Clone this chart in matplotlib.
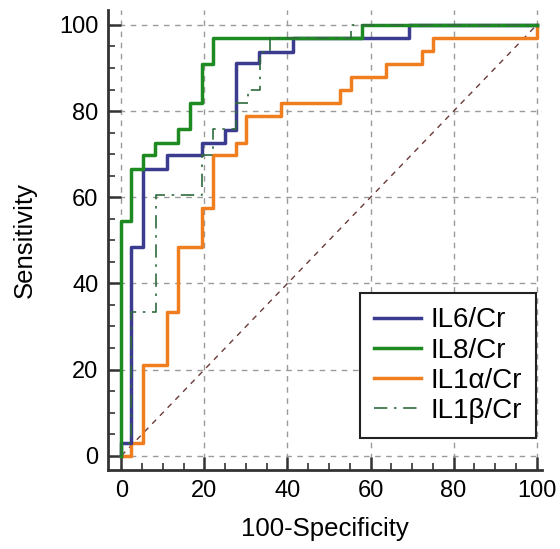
import matplotlib
matplotlib.use("Agg")
import matplotlib.pyplot as plt
from matplotlib.ticker import MultipleLocator

# step points of each ROC curve (100-specificity, sensitivity)
il6_x = [0, 0, 2.4, 2.4, 5.2, 5.2, 11.1, 11.1, 19.3, 19.3, 24.9, 24.9, 27.5, 27.5,
         33.2, 33.2, 41.3, 41.3, 69.3, 69.3, 100]
il6_y = [0, 3.0, 3.0, 48.4, 48.4, 66.5, 66.5, 69.7, 69.7, 72.5, 72.5, 75.6, 75.6, 91.1,
         91.1, 93.8, 93.8, 96.9, 96.9, 100, 100]

il8_x = [0, 0, 2.4, 2.4, 5.2, 5.2, 8.0, 8.0, 13.6, 13.6, 16.5, 16.5, 19.3, 19.3,
         22.1, 22.1, 58.0, 58.0, 100]
il8_y = [0, 54.6, 54.6, 66.5, 66.5, 69.7, 69.7, 72.5, 72.5, 75.8, 75.8, 81.8, 81.8, 90.9,
         90.9, 96.9, 96.9, 100, 100]

il1a_x = [0, 2.4, 2.4, 5.2, 5.2, 11.1, 11.1, 13.6, 13.6, 19.3, 19.3, 22.1, 22.1, 27.5,
          27.5, 30.1, 30.1, 38.5, 38.5, 52.6, 52.6, 55.4, 55.4, 63.7, 63.7, 72.3, 72.3,
          75.1, 75.1, 100, 100]
il1a_y = [0, 0, 3.0, 3.0, 21.0, 21.0, 33.3, 33.3, 48.4, 48.4, 57.6, 57.6, 69.7, 69.7,
          72.5, 72.5, 78.8, 78.8, 81.8, 81.8, 84.8, 84.8, 87.9, 87.9, 90.9, 90.9, 93.9,
          93.9, 97.0, 97.0, 100]

il1b_x = [0, 0, 2.4, 2.4, 8.3, 8.3, 19.3, 19.3, 22.1, 22.1, 27.5, 27.5, 30.5, 30.5,
          33.3, 33.3, 35.9, 35.9, 55.2, 55.2, 100]
il1b_y = [0, 3.0, 3.0, 33.3, 33.3, 60.6, 60.6, 69.7, 69.7, 75.8, 75.8, 81.8, 81.8, 84.8,
          84.8, 93.8, 93.8, 97.0, 97.0, 100, 100]

plt.rcParams['font.family'] = ['Liberation Sans', 'DejaVu Sans']

fig = plt.figure(figsize=(5.6, 5.49), dpi=100)
ax = fig.add_axes([0.193, 0.144, 0.775, 0.838])

ax.plot([0, 100], [0, 100], color='#6b3a3a', lw=1.0, ls=(0, (4, 4)))
ax.plot(il1a_x, il1a_y, color='#f07d1e', lw=2.5, label='IL1\u03b1/Cr', zorder=3)
ax.plot(il6_x, il6_y, color='#3b3b8f', lw=2.5, label='IL6/Cr', zorder=4)
ax.plot(il8_x, il8_y, color='#1e8a22', lw=2.5, label='IL8/Cr', zorder=5)
ax.plot(il1b_x, il1b_y, color='#2f6b3c', lw=1.2, ls=(0, (8, 4, 1.5, 4)),
        label='IL1\u03b2/Cr', zorder=6)

ax.set_xlim(-3.2, 101.3)
ax.set_ylim(-3.3, 103.5)
ax.xaxis.set_major_locator(MultipleLocator(20))
ax.yaxis.set_major_locator(MultipleLocator(20))
ax.xaxis.set_minor_locator(MultipleLocator(5))
ax.yaxis.set_minor_locator(MultipleLocator(5))
ax.tick_params(which='major', direction='in', length=9.5, width=1.8, labelsize=17,
               color='#333333', pad=7)
ax.tick_params(which='minor', direction='in', length=5, width=1.2, color='#333333')
ax.grid(True, which='major', color='#9a9a9a', ls=(0, (4, 4)), lw=1.0)

for side in ['top', 'right']:
    ax.spines[side].set_visible(False)
for side in ['left', 'bottom']:
    ax.spines[side].set_linewidth(2.0)
    ax.spines[side].set_color('#333333')

ax.set_xlabel('100-Specificity', fontsize=18.5, labelpad=11)
ax.set_ylabel('Sensitivity', fontsize=18.5, labelpad=16)

handles, labels = ax.get_legend_handles_labels()
order = [1, 2, 0, 3]
leg = ax.legend([handles[i] for i in order], [labels[i] for i in order],
                loc='lower right', bbox_to_anchor=(0.986, 0.07), borderaxespad=0,
                fontsize=20, frameon=True, fancybox=False, framealpha=1,
                edgecolor='#222222', handlelength=1.7, handletextpad=0.35,
                labelspacing=0.15, borderpad=0.5)
leg.get_frame().set_linewidth(1.5)

fig.savefig('out.png', dpi=100)
